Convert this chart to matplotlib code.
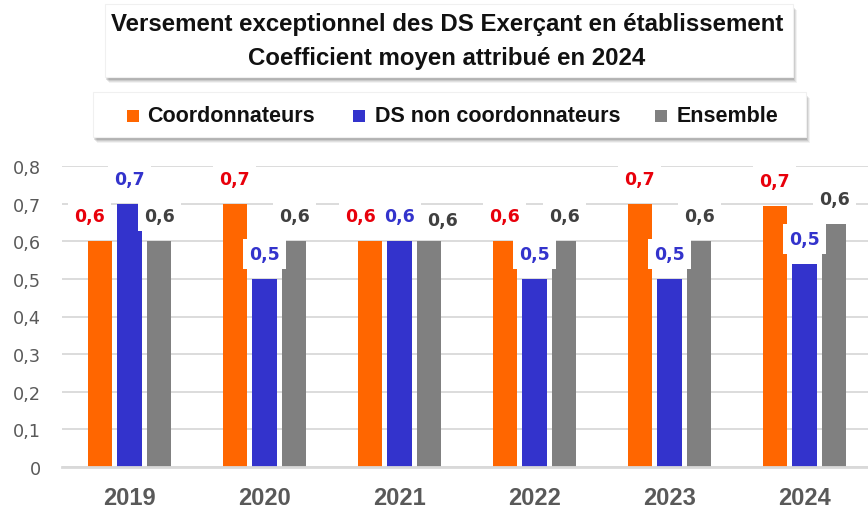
import matplotlib.pyplot as plt
import numpy as np
from matplotlib.patches import Rectangle
from matplotlib.ticker import FuncFormatter

annees = ['2019', '2020', '2021', '2022', '2023', '2024']
coordonnateurs = [0.60, 0.70, 0.60, 0.60, 0.70, 0.695]
ds_non_coord = [0.70, 0.50, 0.60, 0.50, 0.50, 0.54]
ensemble = [0.60, 0.60, 0.60, 0.60, 0.60, 0.646]
series = ['Coordonnateurs', 'DS non coordonnateurs', 'Ensemble']

couleurs = ['#FF6600', '#3333CC', '#808080']
couleurs_txt = ['#E8000B', '#3333CC', '#404040']

# petits decalages des etiquettes (en px) comme dans Excel
decal_x = [[-10, 0, -9, 0, 0, 0],
           [0, 0, 0, 0, 0, 0],
           [0, 0, 13, 0, 0, 0]]
decal_y = [[0, 0, 0, 0, 0, 0],
           [0, 0, 0, 0, 0, 0],
           [0, 0, -4, 0, 0, 0]]

W, H = 868, 510
fig = plt.figure(figsize=(W / 100, H / 100), dpi=100)

def fx(x):
    return x / W

def fy(y):
    return 1 - y / H

# axes: x de 62 a 868 px, y de 167 (0,8) a 468 (0)
ax = fig.add_axes([fx(62), fy(468), fx(868 - 62), (468 - 167) / H])

x = np.arange(len(annees))
larg = 0.178
pas = 0.222
valeurs = [coordonnateurs, ds_non_coord, ensemble]
for i, vals in enumerate(valeurs):
    pos = x + (i - 1) * pas
    barres = ax.bar(pos, vals, width=larg, color=couleurs[i], zorder=2)
    for j, (b, v) in enumerate(zip(barres, vals)):
        ax.annotate(f"{v:.1f}".replace('.', ','),
                    (b.get_x() + b.get_width() / 2, v),
                    xytext=(decal_x[i][j] * 0.72, 18 + decal_y[i][j] * 0.72),
                    textcoords='offset points',
                    ha='center', va='center', fontsize=12.5, fontweight='bold',
                    family='DejaVu Sans', color=couleurs_txt[i], zorder=4,
                    annotation_clip=False,
                    bbox=dict(boxstyle='square,pad=0.35', fc='white', ec='none'))

ax.set_xlim(-0.5, -0.5 + (868 - 62) / 135)
ax.set_ylim(0, 0.8)
ax.set_yticks(np.arange(0, 0.81, 0.1))
ax.yaxis.set_major_formatter(FuncFormatter(
    lambda v, p: '0' if abs(v) < 1e-9 else f"{v:.1f}".replace('.', ',')))
ax.set_xticks(x)
ax.set_xticklabels(annees, fontsize=17, fontweight='bold',
                   family='Liberation Sans', color='#595959')
for t in ax.get_yticklabels():
    t.set_fontsize(12.7)
    t.set_color('#595959')
    t.set_family('DejaVu Sans')
ax.tick_params(axis='y', length=0, pad=15)
ax.tick_params(axis='x', length=0, pad=14)
ax.grid(axis='y', color='#D9D9D9', linewidth=1.3, zorder=0)
ax.set_axisbelow(True)
for s in ['top', 'right', 'left']:
    ax.spines[s].set_visible(False)
ax.spines['bottom'].set_color('#D9D9D9')
ax.spines['bottom'].set_linewidth(2)


def boite_ombre(x0, y0, x1, y1):
    # ombre portee floue, puis la boite blanche
    for k, a in [(6, 0.05), (5, 0.07), (4, 0.09), (3, 0.12)]:
        fig.patches.append(Rectangle((fx(x0 + k - 2), fy(y1 + k)),
                                     fx(x1 - x0), (y1 - y0) / H,
                                     transform=fig.transFigure,
                                     fc='black', ec='none', alpha=a, zorder=1))
    fig.patches.append(Rectangle((fx(x0), fy(y1)), fx(x1 - x0), (y1 - y0) / H,
                                 transform=fig.transFigure,
                                 fc='white', ec='#F0F0F0', lw=0.8, zorder=2))


# titre
boite_ombre(105, 5, 793, 78)
fig.text(fx(447), fy(25), 'Versement exceptionnel des DS Exerçant en établissement',
         ha='center', va='center', fontsize=17.3, fontweight='bold',
         family='Liberation Sans', color='#111111', zorder=3)
fig.text(fx(447), fy(59), 'Coefficient moyen attribué en 2024',
         ha='center', va='center', fontsize=17.3, fontweight='bold',
         family='Liberation Sans', color='#111111', zorder=3)

# legende
boite_ombre(93, 93, 806, 138)
carres = [127, 353, 655]
textes = [147, 375, 677]
for i, nom in enumerate(series):
    fig.patches.append(Rectangle((fx(carres[i]), fy(123)), fx(12), 12 / H,
                                 transform=fig.transFigure,
                                 fc=couleurs[i], ec='none', zorder=3))
    fig.text(fx(textes[i]), fy(117), nom, ha='left', va='center',
             fontsize=15.5, fontweight='bold', family='Liberation Sans',
             color='#111111', zorder=3)

fig.savefig('out.png', dpi=100)
